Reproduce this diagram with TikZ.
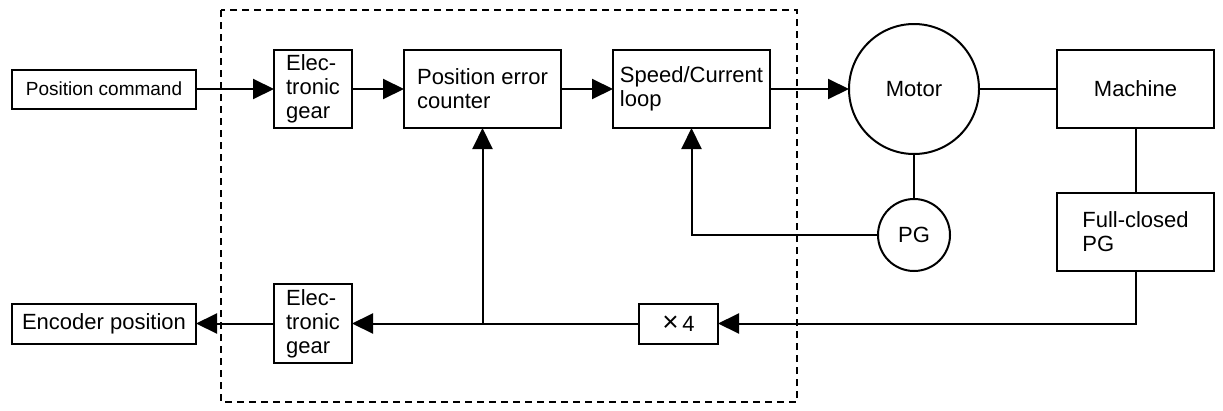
\documentclass[tikz,border=0pt]{standalone}
\usepackage{fontspec}
\setmainfont{Liberation Sans}
\usepackage{tikz}
\usetikzlibrary{arrows.meta,positioning}

\begin{document}
\begin{tikzpicture}[
    x=1pt, y=-1pt,
    font=\fontsize{22}{24}\selectfont,
    line width=2pt,
    blk/.style={draw, inner sep=0pt, outer sep=0pt, minimum width=157pt, minimum height=78pt, align=left},
    gearbox/.style={blk, minimum width=78pt},
    endbox/.style={draw, inner sep=0pt, outer sep=0pt, minimum width=184pt, minimum height=40pt},
    rnd/.style={draw, circle, inner sep=0pt, outer sep=0pt},
    arr/.style={-{Triangle[length=21pt, width=20pt]}}
]
\useasboundingbox (0,0) rectangle (1223,410);
\draw[line width=1.6pt, dash pattern=on 7pt off 5pt] (221,10) rectangle (797,402);

% forward path
\node[endbox, minimum height=39pt, font=\fontsize{19}{22}\selectfont] (pcmd) at (104,89) {Position command};
\node[gearbox, right=78pt of pcmd] (gin) {Elec-\\tronic\\gear};
\node[blk, right=52pt of gin] (pec) {Position error\\counter};
\node[blk, right=52pt of pec] (scl) {Speed/Current\\loop};
\node[rnd, minimum size=130pt, right=79pt of scl] (motor) {Motor};
\node[blk, align=center, right=78pt of motor] (mach) {Machine};
\node[rnd, minimum size=72pt, below=45pt of motor] (pg) {PG};
\node[blk, below=65pt of mach] (fcpg) {Full-closed\\PG};

% feedback path
\node[gearbox, minimum height=79pt, below=156pt of gin] (gout) {Elec-\\tronic\\gear};
\node[endbox, left=78pt of gout] (enc) {Encoder position};
\node[endbox, minimum width=79pt, right=287pt of gout] (x4) {{\fontsize{28}{24}\selectfont ×}\,4};
\coordinate (jn) at (pec.south |- x4.west);

\foreach \i/\j in {pcmd/gin, gin/pec, pec/scl, scl/motor, x4/gout, gout/enc}
  \draw[arr] (\i) -- (\j);
\draw (motor) -- (mach);
\draw (mach) -- (fcpg);
\draw (motor) -- (pg);
\draw[arr] (pg.west) -| (scl.south);
\draw[arr] (fcpg.south) |- (x4.east);
\draw[arr] (jn) -- (pec.south);
\end{tikzpicture}
\end{document}
